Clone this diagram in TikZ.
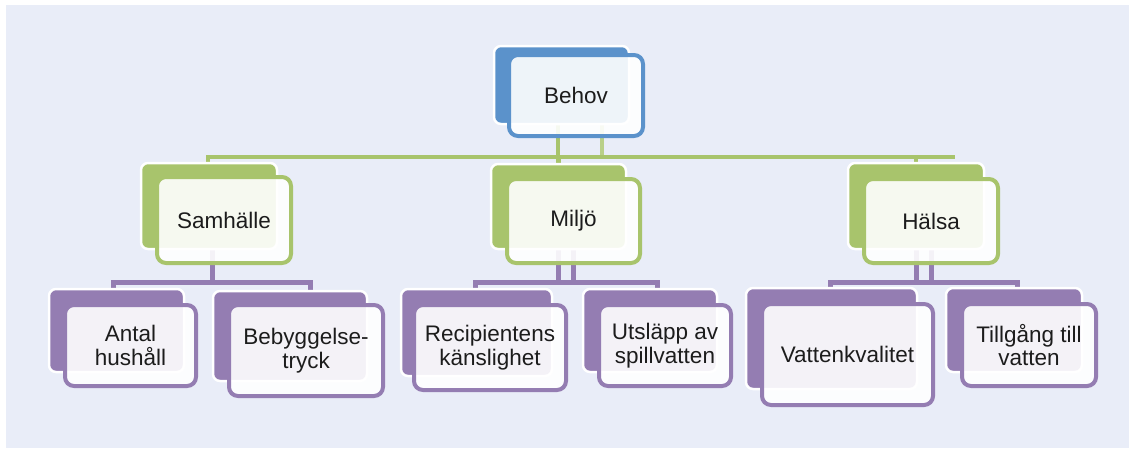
\documentclass[tikz,border=0pt]{standalone}
\usepackage{fontspec}
\setmainfont{Liberation Sans}
\definecolor{bg}{RGB}{233,237,248}
\definecolor{cblue}{RGB}{91,146,203}
\definecolor{cgreen}{RGB}{168,196,108}
\definecolor{cpurple}{RGB}{148,125,178}
\definecolor{txt}{RGB}{28,28,28}
\pgfdeclarelayer{bgl}
\pgfdeclarelayer{conn}
\pgfsetlayers{bgl,conn,main}
\begin{document}
\begin{tikzpicture}[x=1pt,y=-1pt,
  sz/.style 2 args={minimum width=#1pt, minimum height=#2pt},
  backbox/.style={draw=white, line width=2.5pt, fill=#1, rounded corners=7pt, inner sep=0pt, outer sep=0pt},
  frontbox/.style={draw=#1, line width=4pt, fill=white, fill opacity=0.9, text opacity=1,
    rounded corners=9pt, inner sep=0pt, outer sep=0pt, align=center, text=txt,
    font=\fontsize{22.5}{23.5}\selectfont},
  gconn/.style={draw=cgreen, line width=4.5pt},
  gconnlight/.style={draw=cgreen!80, line width=3.5pt},
  pconn/.style={draw=cpurple, line width=5pt},
]
\useasboundingbox (0,0) rectangle (1129,448);
\begin{pgfonlayer}{bgl}
  \fill[bg] (6,5) rectangle (1129,448);
\end{pgfonlayer}

% ---- level 1
\node[backbox=cblue, sz={135}{78}] (behovB) at (561.5,85) {};
\node[frontbox=cblue, sz={134}{81}] (behovF) at (576,95.5) {Behov};

% ---- level 2
\node[backbox=cgreen, sz={136}{86}] (samB) at (209,206) {};
\node[frontbox=cgreen, sz={134}{86}] (samF) at (224,220) {Samhälle};

\node[backbox=cgreen, sz={135}{85}] (milB) at (558.5,206.5) {};
\node[frontbox=cgreen, sz={133}{84}] (milF) at (573.5,221) {Miljö};

\node[backbox=cgreen, sz={136}{86}] (halB) at (916,206) {};
\node[frontbox=cgreen, sz={134}{84}] (halF) at (931,221) {Hälsa};

% ---- level 3
\node[backbox=cpurple, sz={135}{83}] (antB) at (116.5,330.5) {};
\node[frontbox=cpurple, sz={131}{81}] (antF) at (130.5,345.5) {Antal\\hushåll};

\node[backbox=cpurple, sz={154}{90}] (bebB) at (290,336) {};
\node[frontbox=cpurple, sz={154}{91}] (bebF) at (306,350.5) {Bebyggelse-\\tryck};

\node[backbox=cpurple, sz={151}{87}] (recB) at (476.5,332.5) {};
\node[frontbox=cpurple, sz={152}{85}] (recF) at (490,347.5) {Recipientens\\känslighet};

\node[backbox=cpurple, sz={134}{83}] (utsB) at (650,330.5) {};
\node[frontbox=cpurple, sz={132}{81}] (utsF) at (665,345.5) {Utsläpp av\\spillvatten};

\node[backbox=cpurple, sz={171}{101}] (vatB) at (831.5,338.5) {};
\node[frontbox=cpurple, sz={171}{101}] (vatF) at (847.5,354.5) {Vattenkvalitet};

\node[backbox=cpurple, sz={136}{84}] (tilB) at (1014,330) {};
\node[frontbox=cpurple, sz={134}{82}] (tilF) at (1029,345) {Tillgång till\\vatten};

% ---- connectors (behind the boxes)
\coordinate (bus) at (0,157);
\coordinate (busR) at (955,157);
\coordinate (sbus) at (0,282);

\begin{pgfonlayer}{conn}
  % Behov -> level 2
  \draw[gconn] ([xshift=-3.5pt]behovB.center) -- ([xshift=-3.5pt]behovB.center |- bus);
  \draw[gconnlight] ([xshift=26pt]behovF.center) -- ([xshift=26pt]behovF.center |- bus);
  \draw[gconn] ([xshift=-1pt]samB.north) |- (busR);
  \draw[gconn] (milB.north) -- (milB.north |- bus);
  \draw[gconn] (halB.north) -- (halB.north |- bus);

  % Samhälle -> children
  \draw[pconn] ([xshift=3pt]samB.center) -- ([xshift=3pt]samB.center |- sbus);
  \draw[pconn] ([xshift=-3.5pt]antB.north) |- ([xshift=20pt]bebB.north |- sbus) -- ([xshift=20pt]bebB.north);

  % Miljö -> children
  \draw[pconn] (milB.center) -- (milB.center |- sbus);
  \draw[pconn] (milF.center) -- (milF.center |- sbus);
  \draw[pconn] ([xshift=-1.5pt]recB.north) |- ([xshift=7pt]utsB.north |- sbus) -- ([xshift=7pt]utsB.north);

  % Hälsa -> children
  \draw[pconn] (halB.center) -- (halB.center |- sbus);
  \draw[pconn] (halF.center) -- (halF.center |- sbus);
  \draw[pconn] ([xshift=-1.5pt]vatB.north) |- ([xshift=3pt]tilB.north |- sbus) -- ([xshift=3pt]tilB.north);
\end{pgfonlayer}
\end{tikzpicture}
\end{document}
